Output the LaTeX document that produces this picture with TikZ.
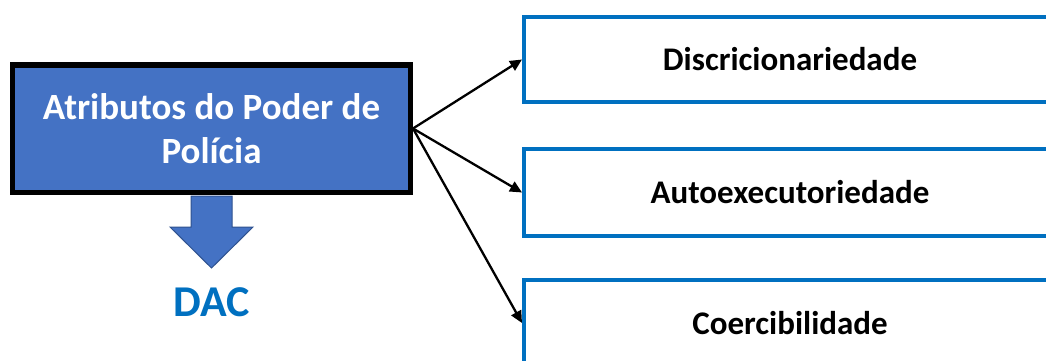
\documentclass[tikz,border=0pt]{standalone}
\usepackage{fontspec}
\setmainfont{Carlito}
\usetikzlibrary{arrows.meta}
\definecolor{mainblue}{HTML}{4472C4}
\definecolor{darkblue}{HTML}{2F528F}
\definecolor{boxblue}{HTML}{0070C0}
\tikzset{
  mainbox/.style={draw=black, line width=5pt, fill=mainblue, text=white,
    minimum width=398pt, minimum height=127pt, align=center, inner sep=0pt,
    font=\bfseries\fontsize{37}{44}\selectfont},
  attrbox/.style={draw=boxblue, line width=4pt, fill=white, minimum width=532pt,
    inner sep=0pt, font=\bfseries\fontsize{33}{38}\selectfont},
  conn/.style={draw=black, line width=2.3pt, -{Triangle[length=12pt,width=11pt]}},
}
\begin{document}
\begin{tikzpicture}[x=1pt,y=-1pt]
\clip (0,0) rectangle (1046,361);
\fill[white] (0,0) rectangle (1046,361);
\node[mainbox] (main) at (211.5,128.5) {Atributos do Poder de\\Polícia};
\node[attrbox, minimum height=85pt] (b1) at (790,59.5) {Discricionariedade};
\node[attrbox, minimum height=87pt] (b2) at (790,192.5) {Autoexecutoriedade};
\node[attrbox, minimum height=86pt] (b3) at (790,323) {Coercibilidade};
\draw[fill=mainblue, draw=darkblue, line width=1pt]
  (191,196) -- (232,196) -- (232,227) -- (253,227) -- (211.5,268) -- (170,227) -- (191,227) -- cycle;
\node[text=boxblue, font=\bfseries\fontsize{44}{50}\selectfont] (dac) at (212,302) {DAC};
\draw[conn] (main.east) -- (b1.west);
\draw[conn] (main.east) -- (b2.west);
\draw[conn] (main.east) -- (b3.west);
\end{tikzpicture}
\end{document}
